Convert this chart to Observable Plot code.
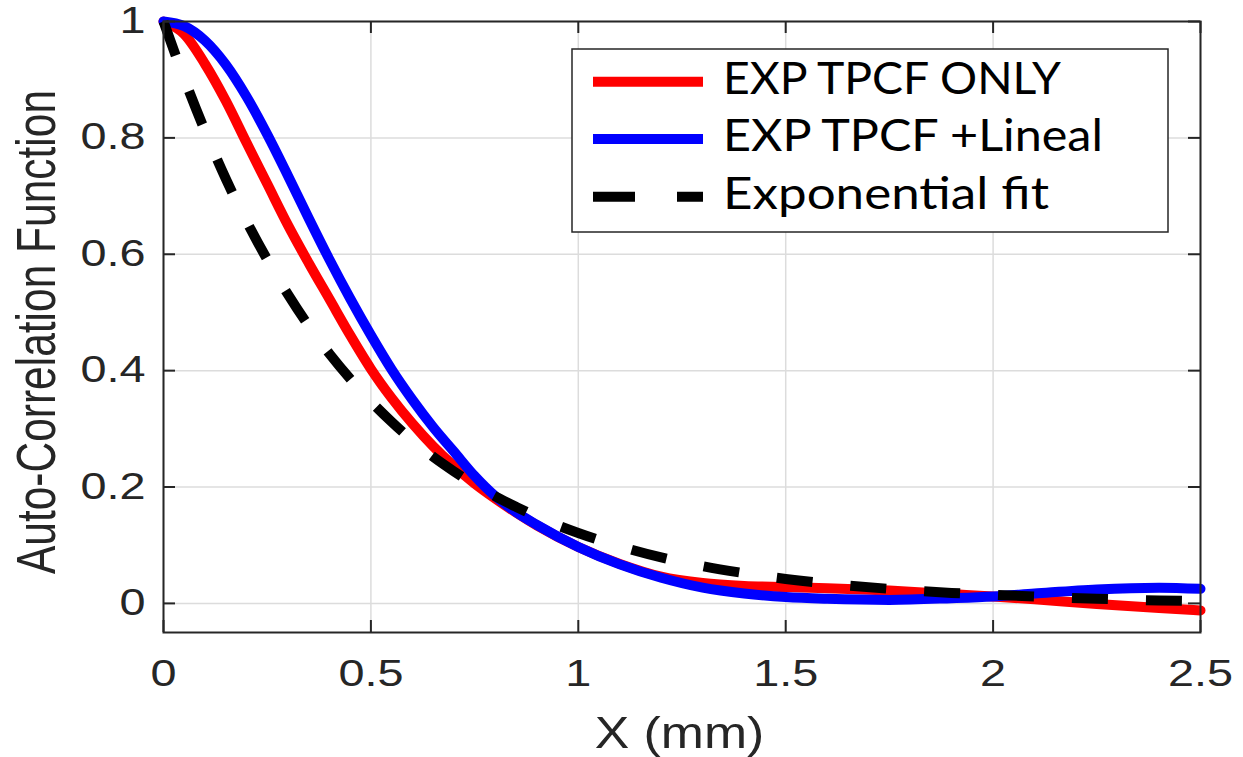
<!DOCTYPE html>
<html><head><meta charset="utf-8">
<script src="https://cdn.jsdelivr.net/npm/d3@7"></script>
<script src="https://cdn.jsdelivr.net/npm/@observablehq/plot@0.6"></script>
<style>html,body{margin:0;padding:0;background:#fff;overflow:hidden}</style>
</head><body><div id="chart"></div>
<script>
// ---- data ----
const xValues    = [0, 0.05, 0.1, 0.15, 0.2, 0.25, 0.3, 0.35, 0.4, 0.45, 0.5, 0.55, 0.6, 0.65, 0.7, 0.75, 0.8, 0.85, 0.9, 1.0, 1.1, 1.2, 1.3, 1.4, 1.5, 1.6, 1.75, 1.9, 2.0, 2.1, 2.25, 2.4, 2.5];
const redValues  = [1.0, 0.978, 0.927, 0.864, 0.792, 0.721, 0.650, 0.585, 0.523, 0.461, 0.403, 0.353, 0.309, 0.270, 0.236, 0.206, 0.180, 0.156, 0.134, 0.097, 0.068, 0.046, 0.035, 0.030, 0.028, 0.026, 0.022, 0.016, 0.012, 0.007, -0.001, -0.008, -0.012];
const blueValues = [1.0, 0.992, 0.967, 0.926, 0.871, 0.806, 0.735, 0.662, 0.591, 0.524, 0.461, 0.402, 0.350, 0.303, 0.261, 0.219, 0.184, 0.157, 0.135, 0.097, 0.067, 0.044, 0.027, 0.017, 0.011, 0.008, 0.006, 0.009, 0.012, 0.017, 0.024, 0.027, 0.025];
const fitValues  = [1.0, 0.902, 0.812, 0.730, 0.657, 0.591, 0.531, 0.477, 0.429, 0.386, 0.347, 0.312, 0.280, 0.252, 0.227, 0.204, 0.184, 0.166, 0.149, 0.121, 0.098, 0.079, 0.064, 0.052, 0.042, 0.034, 0.025, 0.018, 0.015, 0.012, 0.008, 0.005, 0.004];
const seriesNames = ["EXP TPCF ONLY", "EXP TPCF +Lineal", "Exponential fit"];
const seriesColors = ["#ff0000", "#0000ff", "#000000"];
const xTicks = [0, 0.5, 1, 1.5, 2, 2.5];
const xTickLabels = ["0", "0.5", "1", "1.5", "2", "2.5"];
const yTicks = [0, 0.2, 0.4, 0.6, 0.8, 1];
const yTickLabels = ["0", "0.2", "0.4", "0.6", "0.8", "1"];
const xLabel = "X (mm)";
const yLabel = "Auto-Correlation Function";

// ---- layout ----
const W = 1243, H = 757, mL = 163, mR = 43, mT = 21, mB = 125;
const fw = W - mL - mR, fh = H - mT - mB;
const axisColor = "#262626";
const tickFont = "'Liberation Sans', Arial, Helvetica, sans-serif";

const rows = (vals, name) => xValues.map((x, i) => ({x, y: vals[i], series: name}));
const redData = rows(redValues, seriesNames[0]);
const blueData = rows(blueValues, seriesNames[1]);
const fitData = rows(fitValues, seriesNames[2]);

const plot = Plot.plot({
  width: W, height: H,
  marginLeft: mL, marginRight: mR, marginTop: mT, marginBottom: mB,
  x: {domain: [0, 2.5]},
  y: {domain: [-0.05, 1]},
  style: {background: "#fff", overflow: "visible"},
  marks: [
    Plot.gridX(xTicks, {stroke: "#dcdcdc", strokeOpacity: 1, strokeWidth: 1.5}),
    Plot.gridY(yTicks, {stroke: "#dcdcdc", strokeOpacity: 1, strokeWidth: 1.5}),
    Plot.line(redData, {x: "x", y: "y", stroke: seriesColors[0], strokeWidth: 10, curve: "monotone-x"}),
    Plot.line(blueData, {x: "x", y: "y", stroke: seriesColors[1], strokeWidth: 10, curve: "monotone-x"}),
    Plot.line(fitData, {x: "x", y: "y", stroke: seriesColors[2], strokeWidth: 10, curve: "monotone-x",
      strokeDasharray: "36,38", strokeLinecap: "butt"}),
    Plot.frame({stroke: axisColor, strokeWidth: 2}),
    Plot.tickX(xTicks, {x: d => d, insetTop: fh - 12, stroke: axisColor, strokeWidth: 2}),
    Plot.tickX(xTicks, {x: d => d, insetBottom: fh - 12, stroke: axisColor, strokeWidth: 2}),
    Plot.tickY(yTicks, {y: d => d, insetRight: fw - 12, stroke: axisColor, strokeWidth: 2}),
    Plot.tickY(yTicks, {y: d => d, insetLeft: fw - 12, stroke: axisColor, strokeWidth: 2}),
    Plot.axisX(xTicks, {tickSize: 0, tickPadding: 28, label: null,
      tickFormat: d => xTickLabels[xTicks.indexOf(d)],
      fontSize: 36, fontFamily: tickFont, fill: axisColor}),
    Plot.axisY(yTicks, {tickSize: 0, tickPadding: 18, label: null,
      tickFormat: d => yTickLabels[yTicks.indexOf(d)],
      fontSize: 36, fontFamily: tickFont, fill: axisColor})
  ]
});
document.getElementById("chart").append(plot);

// horizontal stretch of text glyphs (the reference is stretched horizontally)
function stretch(el, s) {
  const t = el.getAttribute("transform") || "";
  const m = t.match(/^\s*translate\(([^)]*)\)(.*)$/);
  if (m) {
    el.setAttribute("transform", `translate(${m[1]}) scale(${s},1)${m[2]}`);
  } else {
    const x = +el.getAttribute("x") || 0, y = +el.getAttribute("y") || 0;
    el.removeAttribute("x"); el.removeAttribute("y");
    el.setAttribute("transform", `translate(${x},${y}) scale(${s},1) ${t}`);
  }
}
const svg = d3.select(plot);
svg.selectAll('g[aria-label="x-axis tick label"] text, g[aria-label="y-axis tick label"] text')
  .each(function() { stretch(this, 1.3); });

// axis titles
svg.append("text")
  .attr("transform", `translate(${mL + fw / 2 - 2},748) scale(1.15,1)`)
  .attr("text-anchor", "middle")
  .attr("font-family", tickFont).attr("font-size", 45).attr("fill", axisColor)
  .text(xLabel);
svg.append("text")
  .attr("transform", `translate(55,${mT + 311}) scale(1.3,1) rotate(-90)`)
  .attr("text-anchor", "middle")
  .attr("font-family", tickFont).attr("font-size", 42.5).attr("fill", axisColor)
  .text(yLabel);

// legend
const lg = svg.append("g").attr("aria-label", "legend");
lg.append("rect").attr("x", 572).attr("y", 49).attr("width", 596).attr("height", 183)
  .attr("fill", "#fff").attr("stroke", axisColor).attr("stroke-width", 1.5);
const rowY = [81.7, 139, 196.7];
const legendTextWidths = [338, 380, 326];
seriesNames.forEach((name, i) => {
  const ln = lg.append("line").attr("x1", 593).attr("x2", 703).attr("y1", rowY[i]).attr("y2", rowY[i])
    .attr("stroke", seriesColors[i]).attr("stroke-width", 10);
  if (i === 2) ln.attr("stroke-dasharray", "42,42");
});
seriesNames.forEach((name, i) => {
  const t = lg.append("text")
    .attr("x", 0).attr("y", 0)
    .attr("text-anchor", "start")
    .attr("font-family", "Lato, 'Open Sans', sans-serif").attr("font-size", 45).attr("fill", "#000")
    .text(name);
  const len = t.node().getComputedTextLength() || legendTextWidths[i];
  const s = legendTextWidths[i] / len;
  t.attr("transform", `translate(723,${rowY[i] + 12}) scale(${s},1)`);
});
</script>
</body></html>
